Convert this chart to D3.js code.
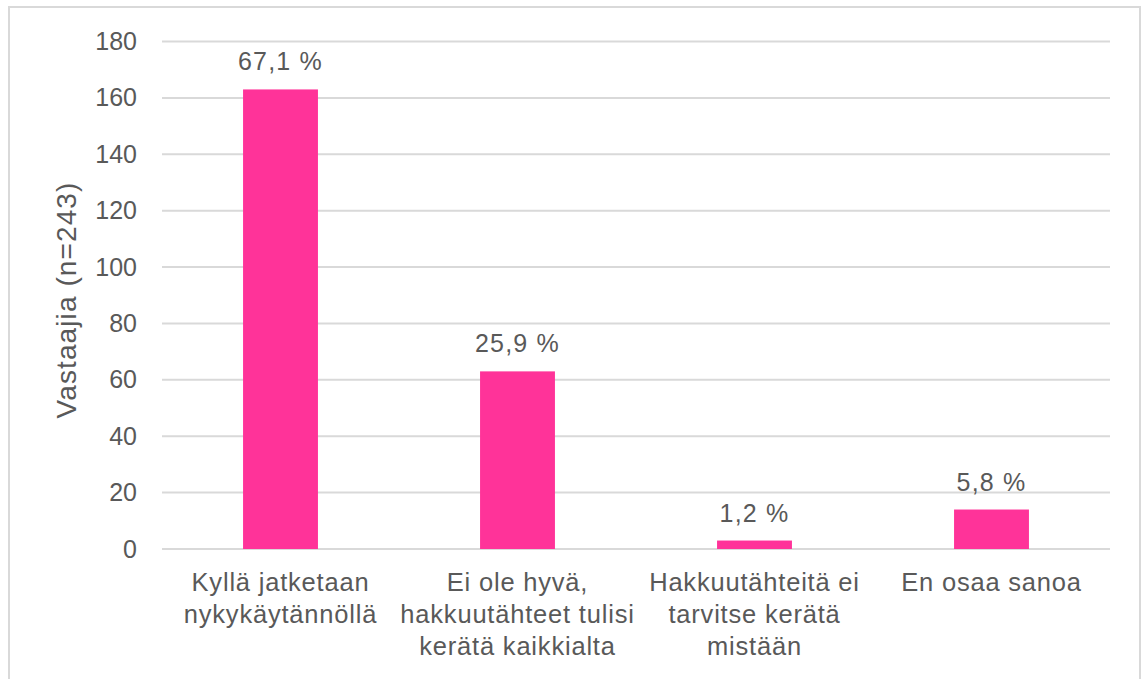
<!DOCTYPE html>
<html><head><meta charset="utf-8">
<script src="https://cdn.jsdelivr.net/npm/d3@7"></script>
<style>body{margin:0;background:#fff;}svg{display:block;font-family:"Liberation Sans",Arial,sans-serif;}</style>
</head><body>
<svg id="c" width="1144" height="679"></svg>
<script>
const categories = ["Kyllä jatketaan nykykäytännöllä", "Ei ole hyvä, hakkuutähteet tulisi kerätä kaikkialta", "Hakkuutähteitä ei tarvitse kerätä mistään", "En osaa sanoa"];
const values = [163, 63, 3, 14];
const percentLabels = ["67,1 %", "25,9 %", "1,2 %", "5,8 %"];
const yTicks = [0, 20, 40, 60, 80, 100, 120, 140, 160, 180];
const yTitle = "Vastaajia (n=243)";

const svg = d3.select("#c");
const m = {left: 162, right: 1110, top: 41.5, bottom: 549};
const textColor = "#595959";

svg.append("rect").attr("x", 9).attr("y", 7).attr("width", 1131).attr("height", 700)
  .attr("fill", "#fff").attr("stroke", "#d9d9d9").attr("stroke-width", 2);

const x = d3.scaleBand().domain(categories).range([m.left, m.right]).paddingInner(0.684).paddingOuter(0.342);
const y = d3.scaleLinear().domain([0, 180]).range([m.bottom, m.top]);

// gridlines
svg.append("g").selectAll("line").data(yTicks).join("line")
  .attr("x1", m.left).attr("x2", m.right)
  .attr("y1", d => y(d)).attr("y2", d => y(d))
  .attr("stroke", "#d9d9d9").attr("stroke-width", 2);

// y axis labels
const yAxis = d3.axisLeft(y).tickValues(yTicks).tickSize(0).tickPadding(0).tickFormat(d3.format("d"));
const gy = svg.append("g").attr("transform", `translate(137,0)`).call(yAxis);
gy.select(".domain").remove();
gy.selectAll("text").attr("font-size", 25).attr("fill", textColor).attr("font-family", "Liberation Sans, Arial, sans-serif");

// y title
svg.append("text").attr("transform", `translate(${76},${300}) rotate(-90)`)
  .attr("text-anchor", "middle").attr("font-size", 28).attr("letter-spacing", 1.1).attr("fill", textColor).text(yTitle);

// bars
svg.append("g").selectAll("rect").data(values).join("rect")
  .attr("x", (d, i) => x(categories[i])).attr("width", x.bandwidth())
  .attr("y", d => y(d)).attr("height", d => y(0) - y(d))
  .attr("fill", "#ff3399");

// data labels
svg.append("g").selectAll("text").data(values).join("text")
  .attr("x", (d, i) => x(categories[i]) + x.bandwidth() / 2)
  .attr("y", d => y(d) - 19)
  .attr("text-anchor", "middle").attr("font-size", 25).attr("letter-spacing", 1.2).attr("fill", textColor)
  .text((d, i) => percentLabels[i]);

// category labels with wrapping
const gx = svg.append("g");
const cfs = 25.5, cls = 0.8;
categories.forEach((c, i) => {
  const t = gx.append("text").attr("text-anchor", "middle").attr("font-size", cfs).attr("letter-spacing", cls).attr("fill", textColor);
  const cx = x(c) + x.bandwidth() / 2;
  const words = c.split(" ");
  const lines = [];
  let cur = [];
  const maxW = x.step() - 2;
  const probe = svg.append("text").attr("font-size", cfs).attr("letter-spacing", cls);
  words.forEach(w => {
    const test = cur.concat([w]).join(" ");
    probe.text(test);
    if (cur.length && probe.node().getComputedTextLength() > maxW) { lines.push(cur.join(" ")); cur = [w]; }
    else cur.push(w);
  });
  lines.push(cur.join(" "));
  probe.remove();
  lines.forEach((l, k) => {
    t.append("tspan").attr("x", cx).attr("y", 591 + k * 32).text(l);
  });
});
</script>
</body></html>
